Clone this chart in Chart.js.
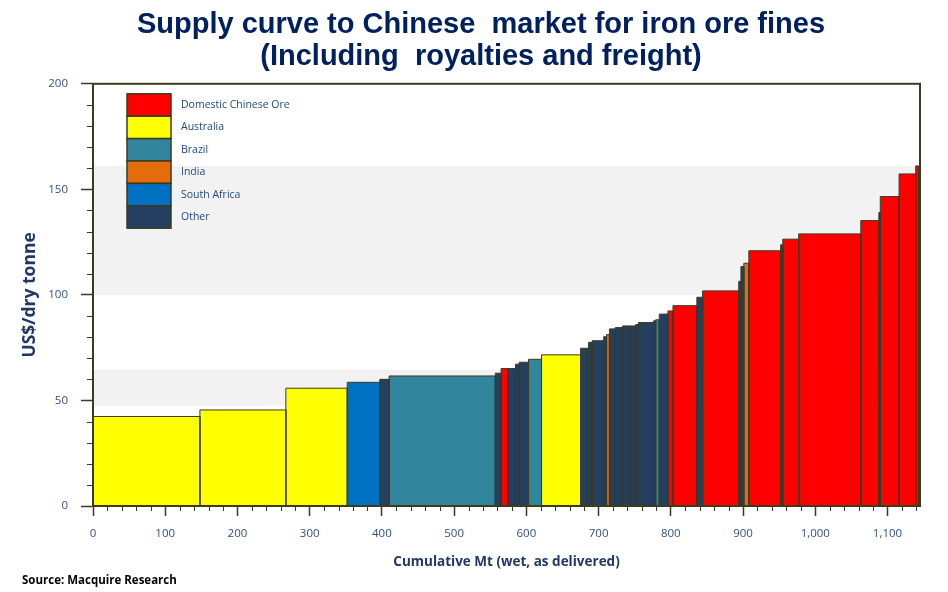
<!DOCTYPE html>
<html><head><meta charset="utf-8">
<script src="https://cdn.jsdelivr.net/npm/chart.js@4.4.1/dist/chart.umd.min.js"></script>
<style>html,body{margin:0;padding:0;background:#fff;}#wrap{width:948px;height:592px;position:relative;}</style>
</head><body><div id="wrap"><canvas id="c" width="948" height="592"></canvas></div>
<script>
// ---- data ----
const categories = ['Domestic Chinese Ore', 'Australia', 'Brazil', 'India', 'South Africa', 'Other'];
const barOrigin = ['Australia','Australia','Australia','South Africa','Other','Brazil','Other','Domestic Chinese Ore','Other','Other',
  'Other','Brazil','Australia','Other','Other','Other','Other','India','Other','Other',
  'Other','Other','Other','Other','Other','Brazil','Other','Domestic Chinese Ore','Domestic Chinese Ore','Other',
  'Domestic Chinese Ore','Other','Other','India','Domestic Chinese Ore','Other','Domestic Chinese Ore','Domestic Chinese Ore','Domestic Chinese Ore','Other',
  'Domestic Chinese Ore','Domestic Chinese Ore','Domestic Chinese Ore'];
const cumulativeMt = [148,267,352,397,410,557,565,574,585,590,
  603,621,675,686,691,707,711,715,723,733,
  744,751,755,776,779,784,796,803,836,844,
  894,897,901,908,952,955,977,1063,1088,1090,
  1116,1139,1143];
const costUsd = [42.4,45.5,55.8,58.6,60.0,61.6,62.9,65.1,65.1,67.2,
  68.1,69.5,71.6,74.7,77.5,78.3,80.2,81.2,83.9,84.5,
  85.3,85.3,85.9,86.9,87.7,88.2,90.9,92.4,94.9,98.9,
  101.9,106.4,113.4,115.0,120.9,123.7,126.4,128.9,135.2,139.0,
  146.6,157.3,161.1];
const bandLow = [47.5, 100];
const bandHigh = [64.5, 161];
const xTickStep = 100, xMinorStep = 20, xMax = 1145;
const yTickStep = 50, yMinorStep = 10, yMax = 200;
const titleLines = ['Supply curve to Chinese  market for iron ore fines', '(Including  royalties and freight)'];
const yTitle = 'US$/dry tonne';
const xTitle = 'Cumulative Mt (wet, as delivered)';
const sourceNote = 'Source: Macquire Research';

// ---- styles ----
const palette = {
  'Domestic Chinese Ore': '#ff0000',
  'Australia': '#ffff00',
  'Brazil': '#31859c',
  'India': '#e46c0a',
  'South Africa': '#0070c0',
  'Other': '#243f60'
};
const EDGE = '#3b3b22';
const AXIS = '#3b3b1f';
const TICKFONT = '#34507f';
const NAVY = '#1f3864';

let start = 0;
const datasets = cumulativeMt.map((end, i) => {
  const ds = {
    label: barOrigin[i],
    data: [{x: start, y: 0}, {x: start, y: costUsd[i]}, {x: end, y: costUsd[i]}, {x: end, y: 0}],
    showLine: true,
    fill: 'origin',
    backgroundColor: palette[barOrigin[i]],
    borderColor: EDGE,
    borderWidth: 1,
    pointRadius: 0,
    pointHoverRadius: 0,
    tension: 0
  };
  start = end;
  return ds;
});

const decor = {
  id: 'decor',
  beforeDatasetsDraw(chart) {
    const {ctx, chartArea: a, scales: {y}} = chart;
    ctx.save();
    ctx.fillStyle = '#f2f2f2';
    bandLow.forEach((lo, i) => {
      const yTop = y.getPixelForValue(bandHigh[i]);
      const yBot = y.getPixelForValue(lo);
      ctx.fillRect(a.left, yTop, a.right - a.left, yBot - yTop);
    });
    ctx.restore();
  },
  afterDraw(chart) {
    const {ctx, chartArea: a, scales: {x, y}} = chart;
    ctx.save();
    // frame
    ctx.strokeStyle = AXIS;
    ctx.lineWidth = 2;
    ctx.strokeRect(a.left, a.top, a.right - a.left, a.bottom - a.top);
    // minor ticks
    ctx.lineWidth = 1;
    ctx.beginPath();
    for (let v = xMinorStep; v < xMax; v += xMinorStep) {
      if (v % xTickStep === 0) continue;
      const px = Math.round(x.getPixelForValue(v)) + 0.5;
      ctx.moveTo(px, a.bottom); ctx.lineTo(px, a.bottom + 5);
    }
    for (let v = yMinorStep; v < yMax; v += yMinorStep) {
      if (v % yTickStep === 0) continue;
      const py = Math.round(y.getPixelForValue(v)) + 0.5;
      ctx.moveTo(a.left, py); ctx.lineTo(a.left - 6, py);
    }
    ctx.stroke();
    // legend
    const sw = 44, sh = 22.4, lx = a.left + 34, ly = a.top + 10;
    ctx.font = '10.5px "Open Sans"';
    ctx.textBaseline = 'middle';
    ctx.textAlign = 'left';
    categories.forEach((c, i) => {
      const top = ly + i * sh;
      ctx.fillStyle = palette[c];
      ctx.fillRect(lx, top, sw, sh);
      ctx.strokeStyle = EDGE;
      ctx.lineWidth = 1.5;
      ctx.strokeRect(lx, top, sw, sh);
      ctx.fillStyle = '#1f497d';
      ctx.fillText(c, lx + 54, top + sh / 2);
    });
    // source
    ctx.fillStyle = '#000';
    ctx.font = 'bold 11.5px "Open Sans"';
    ctx.fillText(sourceNote, 22, 581);
    ctx.restore();
  }
};

new Chart(document.getElementById('c'), {
  type: 'scatter',
  data: {datasets},
  options: {
    responsive: false,
    devicePixelRatio: 1,
    animation: false,
    events: [],
    layout: {padding: {left: 14, right: 0, top: 0, bottom: 0}},
    plugins: {
      legend: {display: false},
      tooltip: {enabled: false},
      title: {
        display: true,
        text: titleLines,
        color: '#002060',
        font: {family: '"Liberation Sans", Arial, sans-serif', size: 29, weight: 'bold', lineHeight: 1.1},
        padding: {top: 9, bottom: 11}
      }
    },
    scales: {
      x: {
        type: 'linear',
        min: 0, max: xMax,
        grid: {drawOnChartArea: false, drawTicks: true, tickLength: 10, tickColor: AXIS, tickWidth: 1.5},
        border: {display: true, color: AXIS, width: 2},
        ticks: {
          stepSize: xTickStep, includeBounds: false, padding: 11, color: TICKFONT,
          font: {family: '"Open Sans"', size: 11.5},
          callback: v => Number(v).toLocaleString('en-US')
        },
        title: {display: true, text: xTitle, color: NAVY, font: {family: '"Open Sans"', size: 13.5, weight: 'bold'}, padding: {top: 0, bottom: 22}},
        afterFit: s => { s.height = 86; }
      },
      y: {
        type: 'linear',
        min: 0, max: yMax,
        grid: {drawOnChartArea: false, drawTicks: true, tickLength: 12, tickColor: AXIS, tickWidth: 1.5},
        border: {display: true, color: AXIS, width: 2},
        ticks: {stepSize: yTickStep, padding: 13, color: TICKFONT, font: {family: '"Open Sans"', size: 11.5}},
        title: {display: true, text: yTitle, color: NAVY, font: {family: '"Open Sans"', size: 17.5, weight: 'bold'}, padding: {top: 6, bottom: 0}},
        afterFit: s => { s.width = 79; }
      },
      yR: {
        type: 'linear',
        position: 'right',
        display: true,
        grid: {display: false, drawTicks: false},
        border: {display: false},
        ticks: {display: false},
        afterFit: s => { s.width = 28; }
      }
    }
  },
  plugins: [decor]
});
</script>
</body></html>
